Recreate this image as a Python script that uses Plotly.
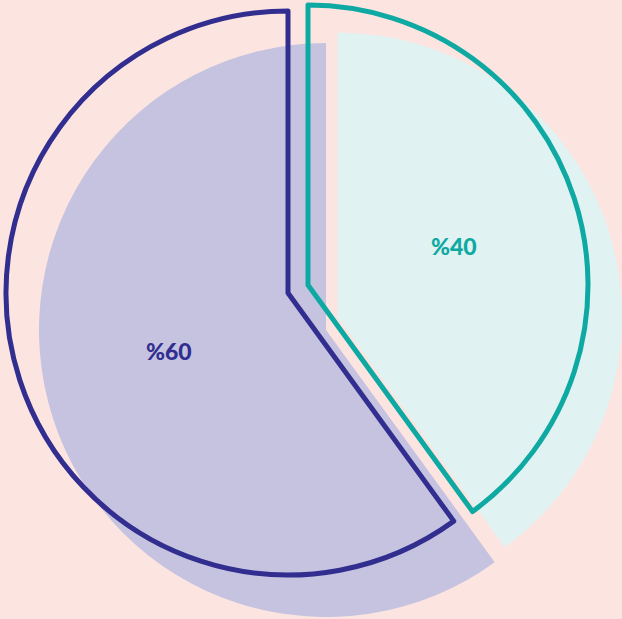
import plotly.graph_objects as go

# Data
categories = ["Teal share", "Purple share"]
values = [40, 60]
value_labels = ["%40", "%60"]

# Styles
BG = "#FCE5E0"
PURPLE_LINE = "#312E8F"
PURPLE_FILL = "#C6C3E1"
TEAL_LINE = "#0EA9A2"
TEAL_FILL = "#E0F2F1"
CLEAR = "rgba(0,0,0,0)"

W, H = 622, 619


def dom(cx, cy, r):
    return dict(x=[(cx - r) / W, (cx + r) / W], y=[1 - (cy + r) / H, 1 - (cy - r) / H])


def pie(domain, colors, line_colors, line_widths):
    return go.Pie(
        labels=categories,
        values=values,
        sort=False,
        direction="clockwise",
        rotation=0,
        domain=domain,
        marker=dict(colors=colors, line=dict(color=line_colors, width=line_widths)),
        textinfo="none",
        hoverinfo="skip",
        showlegend=False,
    )


fig = go.Figure()
# shadow (filled) layer
fig.add_trace(pie(dom(326, 330, 287), [CLEAR, PURPLE_FILL], [CLEAR, CLEAR], [0, 0]))
fig.add_trace(pie(dict(x=[53 / W, 1.0], y=[1 - (317 + 284.5) / H, 1 - (317 - 284.5) / H]),
                  [TEAL_FILL, CLEAR], [CLEAR, CLEAR], [0, 0]))
# outlined layer
fig.add_trace(pie(dom(288, 293, 282), [CLEAR, CLEAR], [CLEAR, PURPLE_LINE], [0, 5]))
fig.add_trace(pie(dom(308, 285, 280), [CLEAR, CLEAR], [TEAL_LINE, CLEAR], [5, 0]))

fig.add_annotation(x=454 / W, y=1 - 246 / H, xref="paper", yref="paper",
                   xanchor="center", yanchor="middle",
                   text=value_labels[0], showarrow=False,
                   font=dict(family="Lato", size=23, color=TEAL_LINE, weight=900))
fig.add_annotation(x=169 / W, y=1 - 351 / H, xref="paper", yref="paper",
                   xanchor="center", yanchor="middle",
                   text=value_labels[1], showarrow=False,
                   font=dict(family="Lato", size=23, color=PURPLE_LINE, weight=900))

fig.update_layout(
    width=W, height=H,
    margin=dict(l=0, r=0, t=0, b=0),
    paper_bgcolor=BG, plot_bgcolor=BG,
)
fig.write_html(
    "out.html",
    config={"displayModeBar": False},
    post_script="document.body.style.margin='0';document.body.style.background='%s';" % BG,
)
